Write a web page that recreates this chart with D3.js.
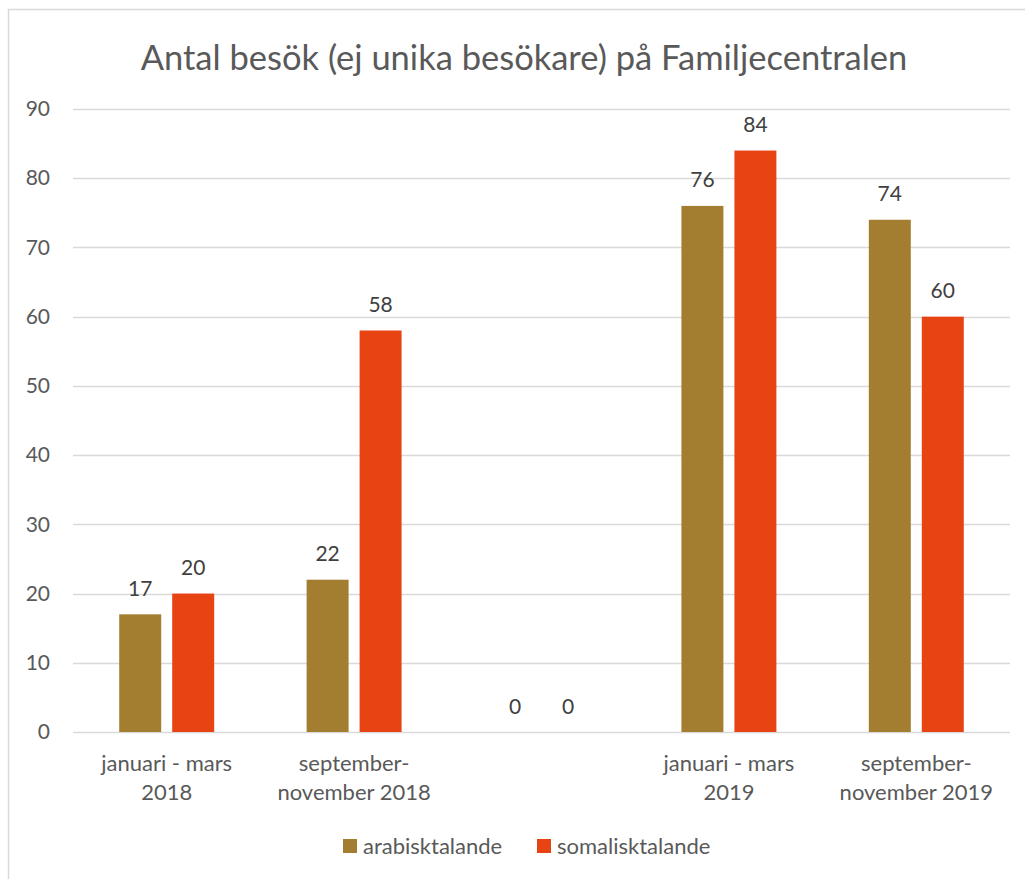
<!DOCTYPE html>
<html>
<head>
<meta charset="utf-8">
<script src="https://cdn.jsdelivr.net/npm/d3@7"></script>
<style>
  html, body { margin: 0; padding: 0; background: #fff; }
  svg text { font-family: Lato, "Open Sans", sans-serif; }
</style>
</head>
<body>
<svg id="chart" width="1025" height="879"></svg>
<script>
const title = "Antal besök (ej unika besökare) på Familjecentralen";
const categories = ["januari - mars 2018", "september-november 2018", "", "januari - mars 2019", "september-november 2019"];
const categoryLines = [["januari - mars", "2018"], ["september-", "november 2018"], [""], ["januari - mars", "2019"], ["september-", "november 2019"]];
const seriesNames = ["arabisktalande", "somalisktalande"];
const arabisktalande = [17, 22, 0, 76, 74];
const somalisktalande = [20, 58, 0, 84, 60];
const seriesColors = ["#A47E30", "#E84313"];
const yTicks = [0, 10, 20, 30, 40, 50, 60, 70, 80, 90];

const seriesValues = [arabisktalande, somalisktalande];
const svg = d3.select("#chart");

// outer chart border
svg.append("rect").attr("x", 8.5).attr("y", 9.5).attr("width", 1030).attr("height", 880)
  .attr("fill", "#fff").attr("stroke", "#d9d9d9").attr("stroke-width", 1.5);

const plotLeft = 73, plotRight = 1010, plotTop = 109, plotBottom = 732;

const x0 = d3.scaleBand().domain(d3.range(categories.length)).range([plotLeft, plotRight]).padding(0);
const x1 = d3.scaleBand().domain(seriesNames).range([0, x0.bandwidth()])
  .paddingInner(0.2075).paddingOuter(0.872);
const y = d3.scaleLinear().domain([0, 90]).range([plotBottom, plotTop]);

// title
svg.append("text").attr("x", 524).attr("y", 70).attr("text-anchor", "middle")
  .attr("fill", "#595959").attr("font-size", 34.5).text(title);

// gridlines
svg.append("g").selectAll("line").data(yTicks).join("line")
  .attr("x1", plotLeft).attr("x2", plotRight)
  .attr("y1", d => Math.round(y(d)) + 0.5).attr("y2", d => Math.round(y(d)) + 0.5)
  .attr("stroke", "#d9d9d9").attr("stroke-width", 1.5);

// y axis labels
const yAxis = d3.axisLeft(y).tickValues(yTicks).tickSize(0).tickPadding(0);
const yg = svg.append("g").attr("transform", "translate(50,0)").call(yAxis);
yg.select(".domain").remove();
yg.selectAll("text").attr("font-size", 21).attr("fill", "#595959")
  .attr("font-family", "Lato, 'Open Sans', sans-serif");

// bars
const groups = svg.append("g").selectAll("g").data(categories.map((c, i) => i)).join("g")
  .attr("transform", i => `translate(${x0(i)},0)`);
groups.selectAll("rect").data(i => seriesNames.map((s, k) => ({s, k, v: seriesValues[k][i]}))).join("rect")
  .attr("x", d => x1(d.s)).attr("width", x1.bandwidth())
  .attr("y", d => y(d.v)).attr("height", d => y(0) - y(d.v))
  .attr("fill", d => seriesColors[d.k]);
groups.selectAll("text").data(i => seriesNames.map((s, k) => ({s, k, v: seriesValues[k][i]}))).join("text")
  .attr("x", d => x1(d.s) + x1.bandwidth() / 2).attr("y", d => y(d.v) - 18.5)
  .attr("text-anchor", "middle").attr("font-size", 21).attr("fill", "#404040")
  .text(d => d.v);

// category labels
const xg = svg.append("g");
categoryLines.forEach((lines, i) => {
  const t = xg.append("text").attr("text-anchor", "middle").attr("font-size", 22).attr("fill", "#595959");
  lines.forEach((ln, j) => {
    t.append("tspan").attr("x", x0(i) + x0.bandwidth() / 2).attr("y", 771 + j * 29).text(ln);
  });
});

// legend
const legendX = [343, 537];
const lg = svg.append("g");
seriesNames.forEach((s, k) => {
  lg.append("rect").attr("x", legendX[k]).attr("y", 839).attr("width", 14).attr("height", 14).attr("fill", seriesColors[k]);
  lg.append("text").attr("x", legendX[k] + 20).attr("y", 854).attr("font-size", 22).attr("fill", "#595959").text(s);
});
</script>
</body>
</html>
